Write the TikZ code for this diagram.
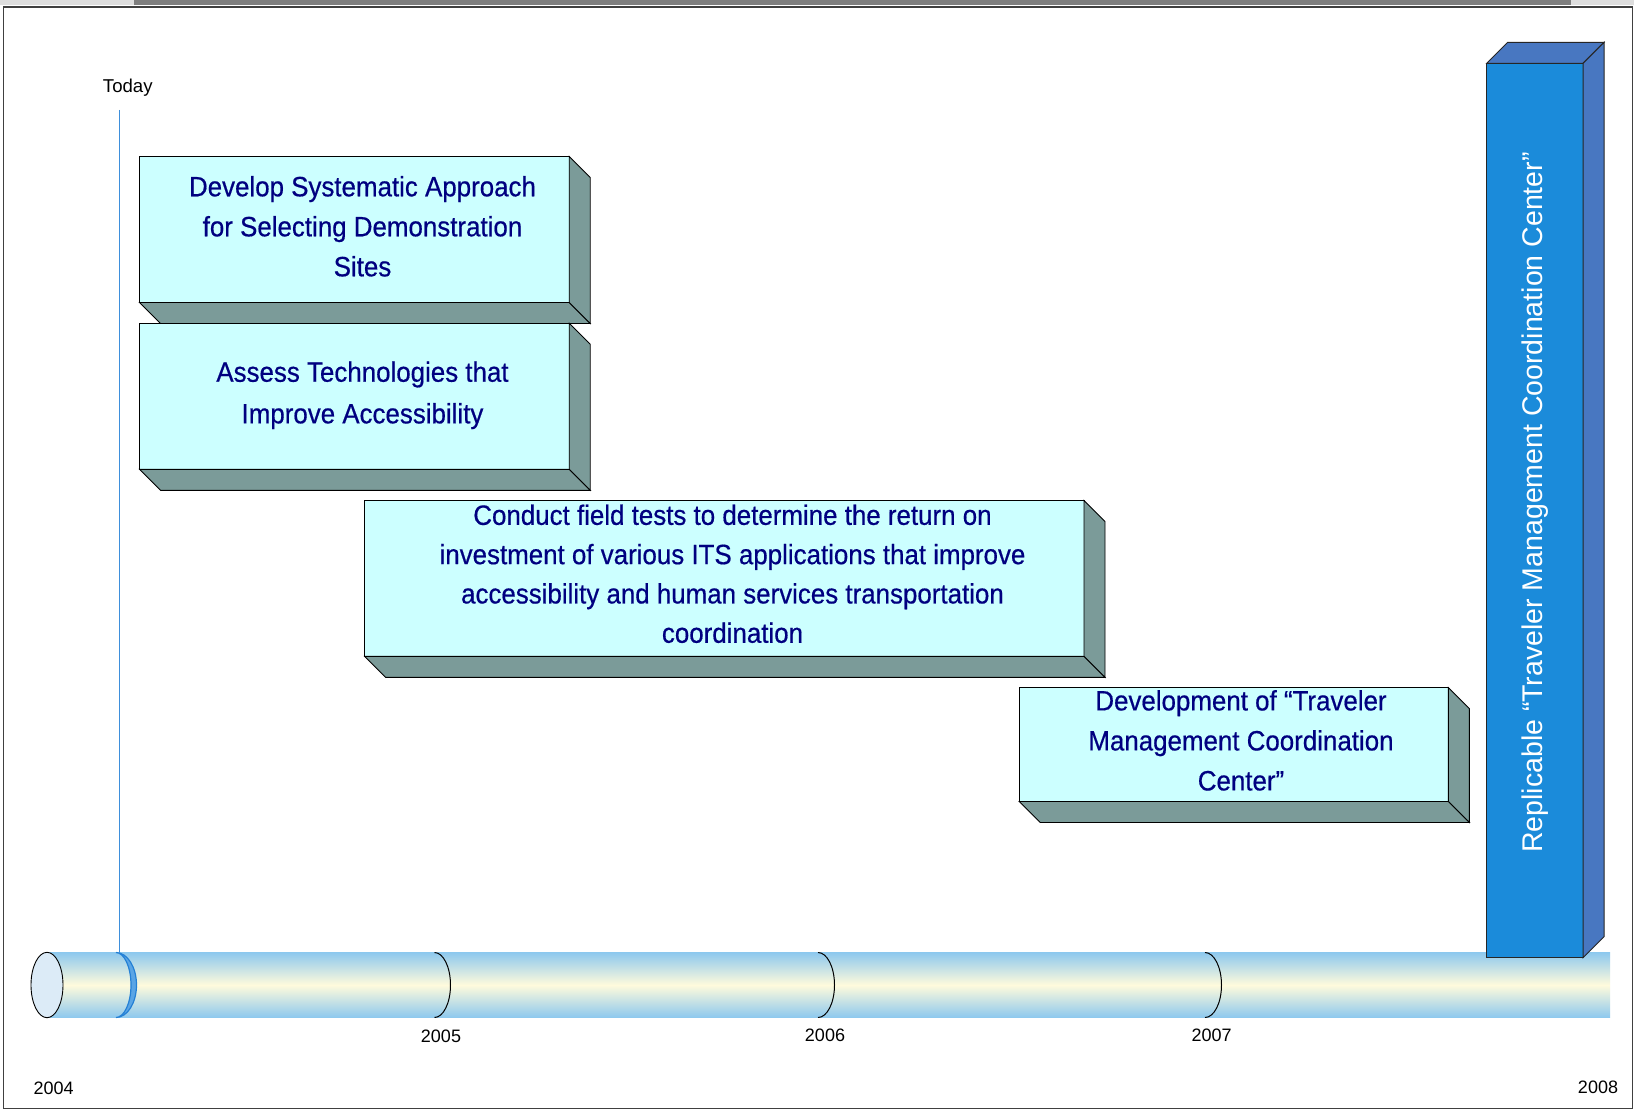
\documentclass[tikz,border=0pt]{standalone}
\usepackage{fontspec}
\setmainfont{Liberation Sans}
\newfontfamily\boxfont{Liberation Sans}[FakeStretch=0.925, FakeBold=0.5]
\usetikzlibrary{calc}
\definecolor{navytext}{RGB}{0,0,128}
\definecolor{facecyan}{RGB}{204,255,255}
\definecolor{sidegray}{RGB}{123,155,153}
\definecolor{barfront}{RGB}{27,139,218}
\definecolor{barside}{RGB}{72,119,193}
\definecolor{tubeblue}{RGB}{141,200,238}
\definecolor{tubecream}{RGB}{255,251,220}
\definecolor{capfill}{RGB}{220,235,247}
\definecolor{todayblue}{RGB}{36,128,213}
\definecolor{todaylight}{RGB}{90,165,229}
\definecolor{todayline}{RGB}{62,143,219}
\definecolor{framegray}{RGB}{64,64,64}
\definecolor{toplight}{RGB}{222,222,222}
\definecolor{topdark}{RGB}{127,127,127}
\begin{document}
\begin{tikzpicture}[x=1pt,y=-1pt,
  face/.style={draw=black, line width=0.9pt, fill=facecyan, inner sep=0pt, outer sep=0pt, anchor=north west},
  depthface/.style={draw=black, line width=0.9pt, fill=sidegray, line join=miter},
  barface/.style={draw=black!85, line width=1pt, fill=barside, line join=miter},
  boxtext/.style={text=navytext, align=center, font=\boxfont\fontsize{28}{40}\selectfont, inner sep=0pt},
  yearlabel/.style={font=\fontsize{18}{20}\selectfont, anchor=base, inner sep=0pt},
  yeararc/.style={draw=black, line width=1pt},
]
\useasboundingbox (0,0) rectangle (1634,1110);
\fill[white] (0,0) rectangle (1634,1110);
% top strip
\fill[toplight] (0,0) rectangle (1634,5.5);
\fill[topdark] (134,0) rectangle (1571,5.5);
% frame
\draw[framegray, line width=1.5pt] (3.5,7) rectangle (1632.5,1108.5);

% timeline tube
\fill[top color=tubeblue, bottom color=tubeblue, middle color=tubecream] (47,952.3) rectangle (1610,1017.7);
\draw[fill=capfill, line width=0.9pt] (47,985) ellipse[x radius=16, y radius=32.7];
\draw[yeararc] (434.5,952.5) arc[start angle=-90, end angle=90, x radius=16, y radius=32.5];
\draw[yeararc] (818,952.5) arc[start angle=-90, end angle=90, x radius=16.5, y radius=32.5];
\draw[yeararc] (1205,952.5) arc[start angle=-90, end angle=90, x radius=16.5, y radius=32.5];
% today marker
\draw[todayblue, fill=todaylight, line width=1.2pt] (116,952.5) arc[start angle=-90, end angle=90, x radius=20.5, y radius=32.5]
  arc[start angle=90, end angle=-90, x radius=15, y radius=32.5] -- cycle;
\coordinate (ttop) at (119.5,110);
\coordinate (tbot) at (119.5,953);
\draw[todayline, line width=1.3pt] (ttop) -- (tbot);

% box 1
\node[face, minimum width=429.7pt, minimum height=146pt] (f1) at (139.5,156.5) {};
\draw[depthface] (f1.south west) -- (f1.south east) -- ($(f1.south east)+(21,21)$) -- ($(f1.south west)+(21,21)$) -- cycle;
\draw[depthface] (f1.north east) -- ($(f1.north east)+(21,21)$) -- ($(f1.south east)+(21,21)$) -- (f1.south east) -- cycle;
% box 2
\node[face, minimum width=429.7pt, minimum height=146pt] (f2) at (139.5,323.3) {};
\draw[depthface] (f2.south west) -- (f2.south east) -- ($(f2.south east)+(21,21)$) -- ($(f2.south west)+(21,21)$) -- cycle;
\draw[depthface] (f2.north east) -- ($(f2.north east)+(21,21)$) -- ($(f2.south east)+(21,21)$) -- (f2.south east) -- cycle;
% box 3
\node[face, minimum width=719.4pt, minimum height=155.8pt] (f3) at (364.6,500.5) {};
\draw[depthface] (f3.south west) -- (f3.south east) -- ($(f3.south east)+(21,21)$) -- ($(f3.south west)+(21,21)$) -- cycle;
\draw[depthface] (f3.north east) -- ($(f3.north east)+(21,21)$) -- ($(f3.south east)+(21,21)$) -- (f3.south east) -- cycle;
% box 4
\node[face, minimum width=429.2pt, minimum height=113.9pt] (f4) at (1019.2,687.6) {};
\draw[depthface] (f4.south west) -- (f4.south east) -- ($(f4.south east)+(21,21)$) -- ($(f4.south west)+(21,21)$) -- cycle;
\draw[depthface] (f4.north east) -- ($(f4.north east)+(21,21)$) -- ($(f4.south east)+(21,21)$) -- (f4.south east) -- cycle;

\node[boxtext] (t1) at (362.5,226.3) {Develop Systematic Approach\\for Selecting Demonstration\\Sites};
\node[boxtext, font=\boxfont\fontsize{28}{41.6}\selectfont] (t2) at (362.5,395.3) {Assess Technologies that\\Improve Accessibility};
\node[boxtext, font=\boxfont\fontsize{28}{39.3}\selectfont] (t3) at (732.5,573.8) {Conduct field tests to determine the return on\\investment of various ITS applications that improve\\accessibility and human services transportation\\coordination};
\node[boxtext] (t4) at (1241,740.4) {Development of “Traveler\\Management Coordination\\Center”};

% vertical bar
\node[draw=black!85, line width=1pt, fill=barfront, minimum width=96.3pt, minimum height=894.4pt, inner sep=0pt, outer sep=0pt, anchor=north west] (bar) at (1486.7,63.3) {};
\draw[barface] (bar.north west) -- ($(bar.north west)+(21,-21)$) -- ($(bar.north east)+(21,-21)$) -- (bar.north east) -- cycle;
\draw[barface] (bar.north east) -- ($(bar.north east)+(21,-21)$) -- ($(bar.south east)+(21,-21)$) -- (bar.south east) -- cycle;
\node[text=white, font=\fontsize{28.5}{30}\selectfont, rotate=90, anchor=base, inner sep=0pt] (bartext) at (1542.7,502.5) {Replicable “Traveler Management Coordination Center”};

% labels
\node[yearlabel, font=\fontsize{18.6}{20}\selectfont] (today) at (127.8,92.3) {Today};
\node[yearlabel] (y2004) at (53.7,1094) {2004};
\node[yearlabel] (y2005) at (441,1042.3) {2005};
\node[yearlabel] (y2006) at (825,1041.7) {2006};
\node[yearlabel] (y2007) at (1211.7,1041.7) {2007};
\node[yearlabel] (y2008) at (1598,1093.3) {2008};
\end{tikzpicture}
\end{document}
